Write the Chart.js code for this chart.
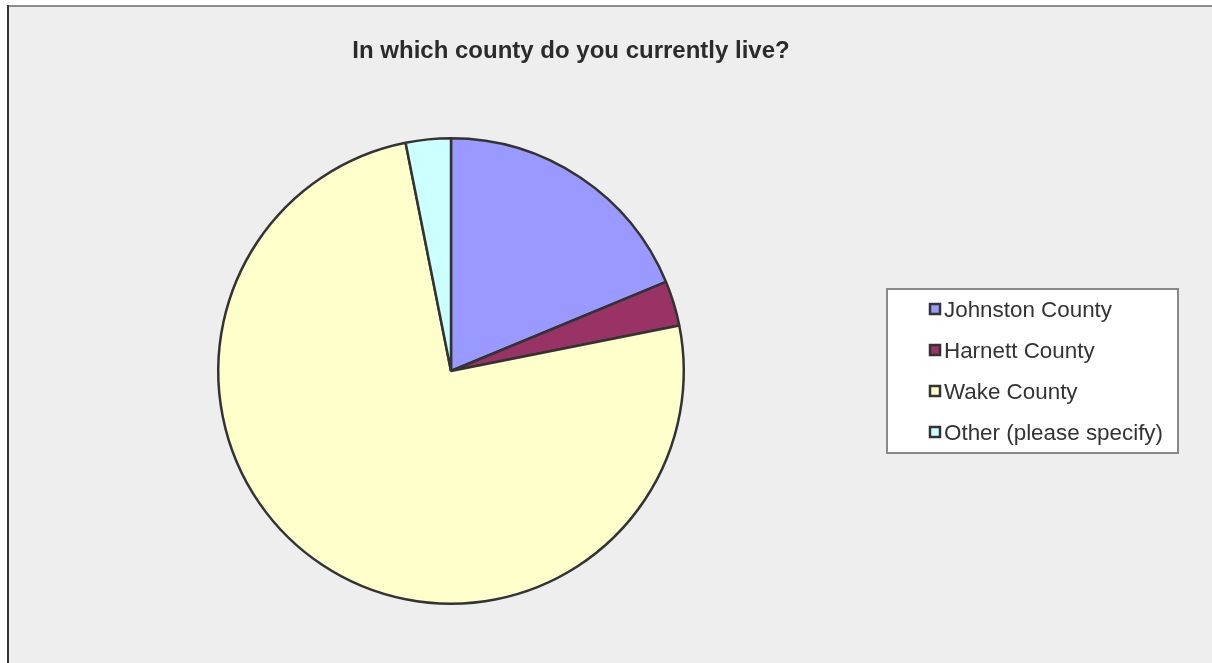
<!DOCTYPE html>
<html>
<head>
<meta charset="utf-8">
<script src="https://cdn.jsdelivr.net/npm/chart.js@4.4.1/dist/chart.umd.min.js"></script>
<style>
    html, body { margin: 0; padding: 0; background: #ffffff; }
    #wrap { width: 1212px; height: 663px; }
</style>
</head>
<body>
<div id="wrap"><canvas id="countyChart" width="1212" height="663"></canvas></div>
<script>
const chartTitle = 'In which county do you currently live?';
const counties = ['Johnston County', 'Harnett County', 'Wake County', 'Other (please specify)'];
const responses = [6, 1, 24, 1];
const sliceColors = ['#9999ff', '#993366', '#ffffcc', '#ccffff'];


// grey panel with the excel-ish frame lines on top and left
const panelBackground = {
    id: 'panelBackground',
    beforeDraw(chart) {
        const ctx = chart.ctx;
        ctx.save();
        ctx.fillStyle = '#ffffff';
        ctx.fillRect(0, 0, chart.width, chart.height);
        ctx.fillStyle = '#eeeeee';
        ctx.fillRect(8, 6, chart.width - 8, chart.height - 6);
        ctx.fillStyle = '#8c8c8c';
        ctx.fillRect(7, 5, chart.width - 7, 2);
        ctx.fillStyle = '#333333';
        ctx.fillRect(7, 5, 2, chart.height - 5);
        ctx.restore();
    }
};


const titleAndLegend = {
    id: 'titleAndLegend',
    afterDraw(chart) {
        const ctx = chart.ctx;
        ctx.save();

        ctx.fillStyle = '#2b2b2b';
        ctx.font = 'bold 24px "Liberation Sans", Arial, sans-serif';
        ctx.textAlign = 'center';
        ctx.textBaseline = 'alphabetic';
        ctx.fillText(chartTitle, 571, 58);

        // legend box
        const bx = 887, by = 289, bw = 291, bh = 164;
        ctx.fillStyle = '#ffffff';
        ctx.fillRect(bx, by, bw, bh);
        ctx.strokeStyle = '#888888';
        ctx.lineWidth = 2;
        ctx.strokeRect(bx, by, bw, bh);

        ctx.font = '22.4px "Liberation Sans", Arial, sans-serif';
        ctx.textAlign = 'left';
        const items = chart.data.labels;
        const colors = chart.data.datasets[0].backgroundColor;
        for (let i = 0; i < items.length; i++) {
            const baseline = 317 + i * 41;
            ctx.fillStyle = colors[i];
            ctx.fillRect(930, baseline - 13, 10, 10);
            ctx.strokeStyle = '#333333';
            ctx.lineWidth = 2.5;
            ctx.strokeRect(930, baseline - 13, 10, 10);
            ctx.fillStyle = '#333333';
            ctx.fillText(items[i], 944, baseline);
        }
        ctx.restore();
    }
};


const ctx = document.getElementById('countyChart').getContext('2d');
const chart = new Chart(ctx, {
    type: 'pie',
    data: {
        labels: counties,
        datasets: [{
            data: responses,
            backgroundColor: sliceColors,
            borderColor: '#333333',
            borderWidth: 2.5
        }]
    },
    options: {
        responsive: false,
        animation: false,
        layout: {
            padding: { left: 217, right: 527, top: 137, bottom: 58 }
        },
        plugins: {
            legend: { display: false },
            title: { display: false },
            tooltip: { enabled: false }
        }
    },
    plugins: [panelBackground, titleAndLegend]
});
</script>
</body>
</html>
